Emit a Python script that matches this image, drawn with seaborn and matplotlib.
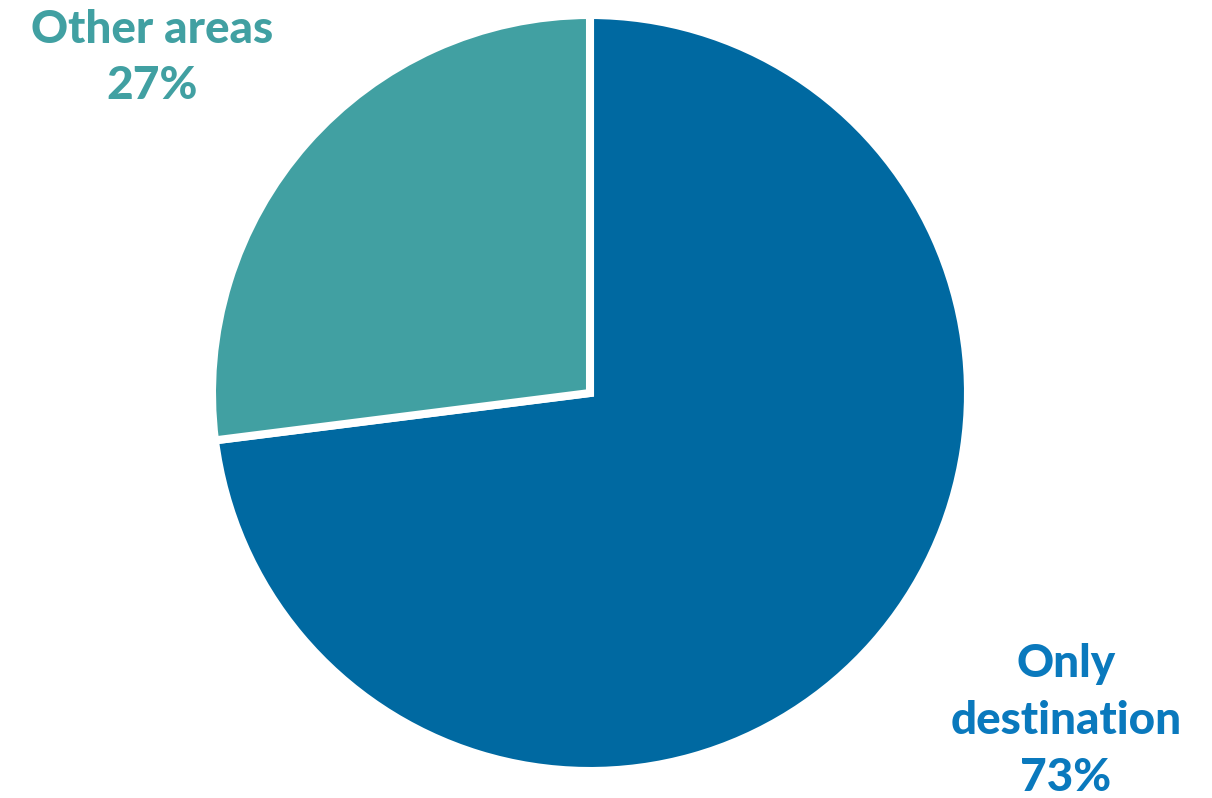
import matplotlib
matplotlib.use("Agg")
import matplotlib.pyplot as plt
import seaborn as sns

# Share of visits by area
categories = ["Only destination", "Other areas"]
shares = [73, 27]
label_lines = [["Only", "destination", "73%"], ["Other areas", "27%"]]

sns.set_theme(style="white")
plt.rcParams["font.family"] = ["Lato", "DejaVu Sans"]

slice_colors = ["#0069a1", "#41a0a2"]
text_colors = ["#0a79bd", "#41a0a2"]

W, H = 1212, 798
fig = plt.figure(figsize=(W / 100, H / 100), dpi=100)

cx, cy, r = 590, 393, 378
ax = fig.add_axes([(cx - r) / W, (H - cy - r) / H, 2 * r / W, 2 * r / H])
ax.pie(shares, colors=slice_colors, startangle=90, counterclock=False,
       radius=1.0, wedgeprops=dict(edgecolor="white", linewidth=5.8))
ax.set_xlim(-1, 1)
ax.set_ylim(-1, 1)
ax.set_aspect("equal")
ax.axis("off")

# label anchors: centre x and first baseline (pixels from top), line step
anchors = [(1066, 677, 57), (152, 43, 56)]
for lines, color, (x, y0, step) in zip(label_lines, text_colors, anchors):
    for i, line in enumerate(lines):
        fig.text(x / W, 1 - (y0 + i * step) / H, line, ha="center",
                 va="baseline", fontsize=33, fontweight="black", color=color)

fig.savefig("out.png", dpi=100)
